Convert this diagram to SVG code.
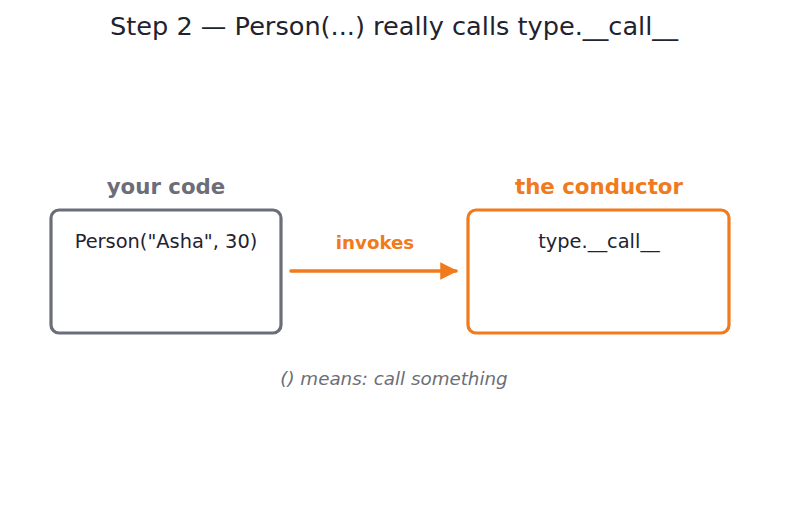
<svg xmlns="http://www.w3.org/2000/svg" width="787" height="512" viewBox="0 0 787 512">
<style>
text{font-family:"DejaVu Sans","Liberation Sans",sans-serif;}
.title{font-size:25.6px;fill:#1f2330;}
.hdr{font-size:21.3px;font-weight:bold;}
.body{font-size:19.4px;fill:#1f2330;}
.grey{fill:#6b6e78;}
.orange{fill:#f07a1c;}
.box{fill:#ffffff;stroke-width:3.2;}
</style>
<defs>
<marker id="ah" viewBox="0 0 10 10" refX="9" refY="5" markerWidth="5" markerHeight="5" orient="auto" markerUnits="strokeWidth">
<path d="M0,0 L10,5 L0,10 z" fill="#f07a1c"/>
</marker>
</defs>
<rect width="787" height="512" fill="#ffffff"/>
<text class="title" x="394" y="35" text-anchor="middle">Step 2 — Person(...) really calls type.__call__</text>
<g id="your-code">
<text class="hdr grey" x="166" y="194" text-anchor="middle">your code</text>
<rect class="box" x="51" y="210" width="230" height="123" rx="8" stroke="#6b6e78"/>
<text class="body" x="166" y="248" text-anchor="middle">Person("Asha", 30)</text>
</g>
<g id="conductor">
<text class="hdr orange" x="599" y="194" text-anchor="middle">the conductor</text>
<rect class="box" x="468" y="210" width="261" height="123" rx="8" stroke="#f07a1c"/>
<text class="body" x="599" y="248" text-anchor="middle">type.__call__</text>
</g>
<g id="connectors">
<line x1="291" y1="271" x2="456" y2="271" stroke="#f07a1c" stroke-width="3.5" stroke-linecap="round" marker-end="url(#ah)"/>
<text class="orange" x="375" y="249" text-anchor="middle" font-size="18.2" font-weight="bold">invokes</text>
</g>
<text class="grey" x="394" y="385" text-anchor="middle" font-size="18.3" font-style="italic">() means: call something</text>
</svg>
